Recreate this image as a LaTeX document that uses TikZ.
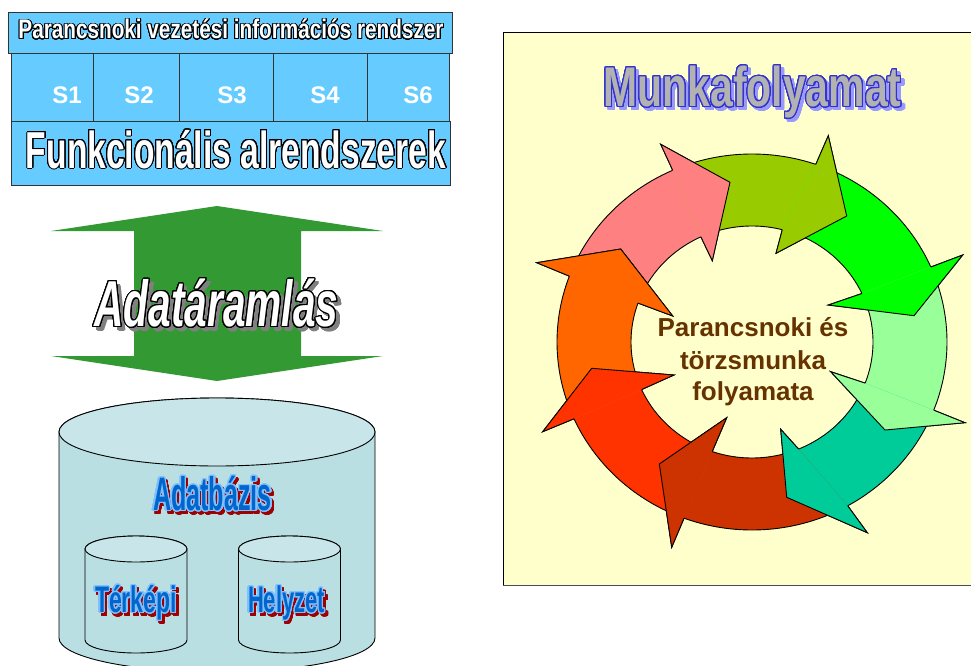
\documentclass[tikz,border=0pt]{standalone}
\usepackage{fontspec}
\setmainfont{Liberation Sans}
\usepackage{graphicx}
\usepackage{contour}
\contournumber{32}

\definecolor{headblue}{HTML}{66CCFF}
\definecolor{frame}{HTML}{333333}
\definecolor{flowgreen}{HTML}{339933}
\definecolor{shadowgray}{HTML}{808080}
\definecolor{dbbody}{HTML}{BADFE2}
\definecolor{dbtop}{HTML}{C8E6E9}
\definecolor{dbblue}{HTML}{0066CC}
\definecolor{dbhalo}{HTML}{7FC0FF}
\definecolor{dbshadow}{HTML}{A00000}
\definecolor{panel}{HTML}{FFFFCC}
\definecolor{titlegray}{HTML}{B2B2B2}
\definecolor{titleblue}{HTML}{3333CC}
\definecolor{titleshadow}{HTML}{9999FF}
\definecolor{cyclebrown}{HTML}{663300}
\definecolor{cpink}{HTML}{FF8080}
\definecolor{colive}{HTML}{99CC00}
\definecolor{cgreen}{HTML}{00FF00}
\definecolor{clgreen}{HTML}{99FF99}
\definecolor{cteal}{HTML}{00CC99}
\definecolor{cdarkred}{HTML}{CC3300}
\definecolor{cred}{HTML}{FF3300}
\definecolor{corange}{HTML}{FF6600}

% text set at a given size and squeezed to a given width
\newsavebox\sqbox
\newcommand\squeezed[3]{%
  \sbox\sqbox{\fontsize{#2}{#2}\selectfont #3}%
  \resizebox{#1}{\ht\sqbox}{\usebox\sqbox}}
% outlined text: halo width, halo colour, text
\newcommand\halo[3]{{\contourlength{#1}\contour{#2}{#3}}}

% one segment of the cycle ring: colour, outer start/end angle, inner start/end angle, barbs and tip
\newcommand\ringbody[8]{%
  \fill[#1] plot[domain=#2:#3,samples=40,variable=\q] ({752+195*cos(\q)},{342+188*sin(\q)})
     -- #6 -- #7 -- #8
     -- plot[domain=#5:#4,samples=40,variable=\q] ({752+121*cos(\q)},{342+116*sin(\q)}) -- cycle;
  \draw[ringline] plot[domain=#2:#3,samples=40,variable=\q] ({752+195*cos(\q)},{342+188*sin(\q)})
     -- #6 -- #7 -- #8
     -- plot[domain=#5:#4,samples=40,variable=\q] ({752+121*cos(\q)},{342+116*sin(\q)});
}
% the head of a segment, laid over the tail of the following one
\newcommand\ringhead[6]{%
  \fill[#1] ({752+195*cos(#2)},{342+188*sin(#2)}) -- #4 -- #5 -- #6
     -- ({752+121*cos(#3)},{342+116*sin(#3)}) -- cycle;
  \draw[ringline] ({752+195*cos(#2)},{342+188*sin(#2)}) -- #4 -- #5 -- #6
     -- ({752+121*cos(#3)},{342+116*sin(#3)});
}

\begin{document}
\begin{tikzpicture}[x=1pt,y=-1pt,
  ringline/.style={draw=black,line width=0.9pt,line join=miter},
  boxline/.style={draw=frame,line width=0.9pt},
  slabel/.style={anchor=base,text=white,font=\bfseries\fontsize{24}{24}\selectfont},
  centertext/.style={anchor=base,text=cyclebrown,font=\bfseries\fontsize{26}{30}\selectfont},
  dbline/.style={draw=black,line width=0.9pt}]
\useasboundingbox (0,0) rectangle (971,666);

% ---------------- system header ----------------
\filldraw[boxline,fill=headblue] (8,12) rectangle (452,53);
\filldraw[boxline,fill=headblue] (11,53) rectangle (449,121);
\filldraw[boxline,fill=headblue] (11,121) rectangle (450,185);
\foreach \cx in {93,179,273,367} \draw[boxline] (\cx,53) -- (\cx,121);

\node[anchor=base,text=white] (title) at (231,39)
  {\halo{0.9pt}{black}{\squeezed{425pt}{27pt}{\bfseries Parancsnoki vezetési információs rendszer}}};
\node[slabel] (s1) at (67,104) {S1};
\node[slabel] (s2) at (139,104) {S2};
\node[slabel] (s3) at (232,104) {S3};
\node[slabel] (s4) at (325,104) {S4};
\node[slabel] (s6) at (418,104) {S6};
\node[anchor=base,text=white] (subsys) at (236,168)
  {\halo{1pt}{black}{\squeezed{420pt}{52pt}{\bfseries Funkcionális alrendszerek}}};

% ---------------- data flow arrow ----------------
\fill[flowgreen] (217,206) -- (383,231) -- (301,231) -- (301,356) -- (383,356)
  -- (217,381) -- (51,356) -- (134,356) -- (134,231) -- (51,231) -- cycle;
\node[anchor=base,text=shadowgray] (flowshadow) at (220,330)
  {\halo{1pt}{shadowgray}{\squeezed{244pt}{65pt}{\bfseries\itshape Adatáramlás}}};
\node[anchor=base,text=white] (flow) at (216.5,326.5)
  {\halo{1pt}{black}{\squeezed{244pt}{65pt}{\bfseries\itshape Adatáramlás}}};

% ---------------- database ----------------
\filldraw[dbline,fill=dbbody] (59,432) -- (59,638)
  arc[start angle=180,end angle=360,x radius=158pt,y radius=34pt] -- (375,432)
  arc[start angle=0,end angle=180,x radius=158pt,y radius=34pt] -- cycle;
\filldraw[dbline,fill=dbtop] (217,432) ellipse[x radius=158pt,y radius=34pt];

\foreach \cx in {136,289.5}{
  \filldraw[dbline,fill=dbbody] (\cx-51,549) -- (\cx-51,640)
    arc[start angle=180,end angle=360,x radius=51pt,y radius=13pt] -- (\cx+51,549)
    arc[start angle=0,end angle=180,x radius=51pt,y radius=13pt] -- cycle;
  \filldraw[dbline,fill=dbtop] (\cx,549) ellipse[x radius=51pt,y radius=13pt];
}

\node[anchor=base,text=dbshadow] (dbshade) at (215,513.5)
  {\halo{1.2pt}{dbshadow}{\squeezed{119pt}{47pt}{\bfseries Adatbázis}}};
\node[anchor=base,text=dbblue] (db) at (212.5,510.5)
  {\halo{1.2pt}{dbhalo}{\squeezed{119pt}{47pt}{\bfseries Adatbázis}}};
\node[anchor=base,text=dbshadow] (mapshade) at (138.5,615.5)
  {\halo{1.2pt}{dbshadow}{\squeezed{82pt}{37pt}{\bfseries Térképi}}};
\node[anchor=base,text=dbblue] (map) at (136,612.5)
  {\halo{1.2pt}{dbhalo}{\squeezed{82pt}{37pt}{\bfseries Térképi}}};
\node[anchor=base,text=dbshadow] (sitshade) at (289,615.5)
  {\halo{1.2pt}{dbshadow}{\squeezed{77pt}{37pt}{\bfseries Helyzet}}};
\node[anchor=base,text=dbblue] (sit) at (286.5,612.5)
  {\halo{1.2pt}{dbhalo}{\squeezed{77pt}{37pt}{\bfseries Helyzet}}};

% ---------------- workflow panel ----------------
\filldraw[fill=panel,draw=black,line width=0.9pt] (503,32) rectangle (985,585);
\draw[draw=black!70,line width=1.6pt] (503,585.5) -- (985,585.5);

\node[anchor=base,text=titleshadow] (wfshade) at (755.5,109.5)
  {\halo{1.2pt}{titleshadow}{\squeezed{298pt}{56pt}{\bfseries Munkafolyamat}}};
\node[anchor=base,text=titlegray] (wf) at (752.5,106.5)
  {\halo{1.1pt}{titleblue}{\squeezed{298pt}{56pt}{\bfseries Munkafolyamat}}};

% cycle bodies
\ringbody{cpink}{200.5}{246.0}{199.6}{245.0}{(660.7,144.3)}{(730,182.3)}{(712.3,260.7)}
\ringbody{colive}{246.0}{289.1}{245.0}{284.5}{(828.3,135.7)}{(846.7,216)}{(776,253.3)}
\ringbody{cgreen}{289.1}{336.5}{284.5}{335.3}{(962.7,255)}{(914,315.7)}{(828.3,305)}
\ringbody{clgreen}{336.5}{381.26}{335.3}{380.77}{(965,422.7)}{(885,430)}{(830.7,371.7)}
\ringbody{cteal}{21.26}{60.6}{20.77}{67.35}{(867.3,532.7)}{(786.7,497.3)}{(780.7,429.3)}
\ringbody{cdarkred}{60.6}{110.4}{67.35}{109.2}{(671.7,547.3)}{(659.3,464)}{(726.7,417.7)}
\ringbody{cred}{110.4}{155.9}{109.2}{155.8}{(542.7,431.7)}{(591.7,368.3)}{(674,375)}
\ringbody{corange}{155.9}{200.5}{155.8}{199.6}{(536.7,262.7)}{(620.7,249)}{(672.7,316)}
% cycle heads
\ringhead{cpink}{246.0}{245.0}{(660.7,144.3)}{(730,182.3)}{(712.3,260.7)}
\ringhead{colive}{289.1}{284.5}{(828.3,135.7)}{(846.7,216)}{(776,253.3)}
\ringhead{cgreen}{336.5}{335.3}{(962.7,255)}{(914,315.7)}{(828.3,305)}
\ringhead{clgreen}{381.26}{380.77}{(965,422.7)}{(885,430)}{(830.7,371.7)}
\ringhead{cteal}{60.6}{67.35}{(867.3,532.7)}{(786.7,497.3)}{(780.7,429.3)}
\ringhead{cdarkred}{110.4}{109.2}{(671.7,547.3)}{(659.3,464)}{(726.7,417.7)}
\ringhead{cred}{155.9}{155.8}{(542.7,431.7)}{(591.7,368.3)}{(674,375)}
\ringhead{corange}{200.5}{199.6}{(536.7,262.7)}{(620.7,249)}{(672.7,316)}

\node[centertext] (c1) at (753,336) {Parancsnoki és};
\node[centertext] (c2) at (753,369) {törzsmunka};
\node[centertext] (c3) at (753,400) {folyamata};
\end{tikzpicture}
\end{document}
